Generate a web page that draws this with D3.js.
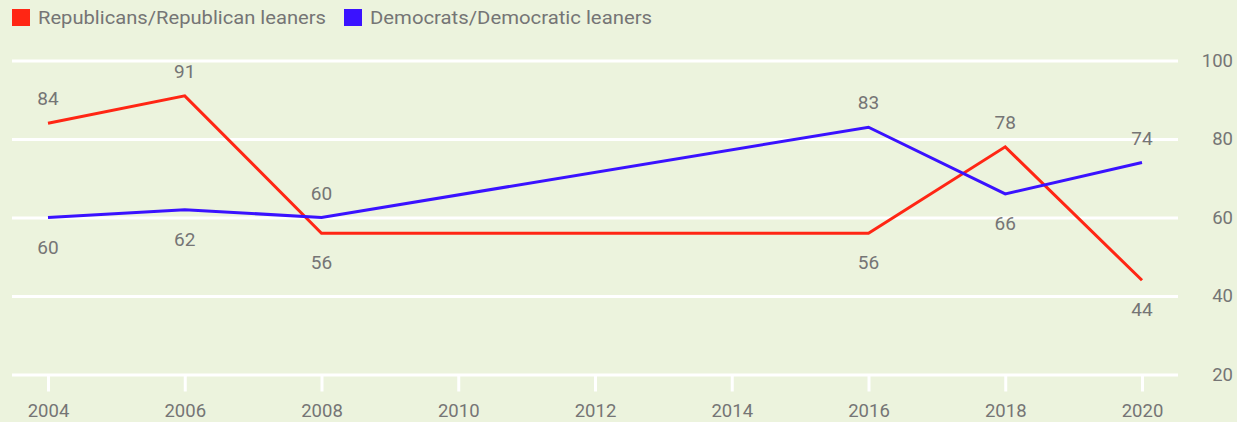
<!DOCTYPE html>
<html>
<head>
<meta charset="utf-8">
<script src="https://cdn.jsdelivr.net/npm/d3@7"></script>
<style>
  html, body { margin: 0; padding: 0; background: #ecf3dd; }
  svg { display: block; font-family: Roboto, "Noto Sans", sans-serif; }
</style>
</head>
<body>
<svg id="chart" width="1237" height="422"></svg>
<script>
// Survey years and share (%) for each party group
const years = [2004, 2006, 2008, 2016, 2018, 2020];
const republicans = [84, 91, 56, 56, 78, 44];
const democrats = [60, 62, 60, 83, 66, 74];
// Label placement for each point: above (1) or below (-1) the line
const repLabelSide = [1, 1, -1, -1, 1, -1];
const demLabelSide = [-1, -1, 1, 1, -1, 1];
const xTicks = [2004, 2006, 2008, 2010, 2012, 2014, 2016, 2018, 2020];
const yTicks = [20, 40, 60, 80, 100];

const series = [
  { name: "Republicans/Republican leaners", color: "#ff2614", values: republicans, side: repLabelSide, width: 288 },
  { name: "Democrats/Democratic leaners", color: "#3a12ff", values: democrats, side: demLabelSide, width: 282 }
];

const svg = d3.select("#chart");
const textColor = "#757575";

const x = d3.scaleLinear().domain([2004, 2020]).range([48, 1142]);
const y = d3.scaleLinear().domain([20, 100]).range([374.5, 60.5]);

// Horizontal gridlines
const grid = d3.axisRight(y).tickValues(yTicks).tickSize(1166).tickFormat("");
svg.append("g")
  .attr("transform", "translate(12,0)")
  .call(grid)
  .call(g => g.select(".domain").remove())
  .call(g => g.selectAll("line").attr("stroke", "#fff").attr("stroke-width", 3));

// Y tick labels on the right
svg.append("g")
  .selectAll("text")
  .data(yTicks)
  .join("text")
  .attr("x", 1233)
  .attr("y", d => y(d))
  .attr("dy", "0.35em")
  .attr("text-anchor", "end")
  .attr("fill", textColor)
  .attr("font-size", 18.5)
  .text(d => d);

// Bottom axis: ticks and year labels
const xAxis = d3.axisBottom(x).tickValues(xTicks).tickFormat(d3.format("d")).tickSize(17).tickPadding(12);
svg.append("g")
  .attr("transform", `translate(0,${y(20)})`)
  .call(xAxis)
  .call(g => g.select(".domain").remove())
  .call(g => g.selectAll("line").attr("stroke", "#fff").attr("stroke-width", 3))
  .call(g => g.selectAll("text").attr("fill", textColor).attr("font-size", 18.5).attr("font-family", "Roboto, sans-serif"));

// Lines
const line = d3.line().x((d, i) => x(years[i])).y(d => y(d));
svg.append("g")
  .selectAll("path")
  .data(series)
  .join("path")
  .attr("fill", "none")
  .attr("stroke", d => d.color)
  .attr("stroke-width", 3)
  .attr("stroke-linejoin", "miter")
  .attr("d", d => line(d.values));

// Value labels
series.forEach(s => {
  svg.append("g")
    .selectAll("text")
    .data(s.values)
    .join("text")
    .attr("x", (d, i) => x(years[i]))
    .attr("y", (d, i) => y(d) + (s.side[i] > 0 ? -18 : 36))
    .attr("text-anchor", "middle")
    .attr("fill", textColor)
    .attr("font-size", 19)
    .text(d => d);
});

// Legend
const legend = svg.append("g").attr("transform", "translate(12,9)");
let offset = 0;
series.forEach(s => {
  const item = legend.append("g").attr("transform", `translate(${offset},0)`);
  item.append("rect").attr("width", 18).attr("height", 17).attr("fill", s.color);
  item.append("text")
    .attr("x", 26).attr("y", 14.5)
    .attr("fill", textColor)
    .attr("font-size", 18.5)
    .attr("textLength", s.width)
    .attr("lengthAdjust", "spacingAndGlyphs")
    .text(s.name);
  offset += 26 + s.width + 18;
});
</script>
</body>
</html>
